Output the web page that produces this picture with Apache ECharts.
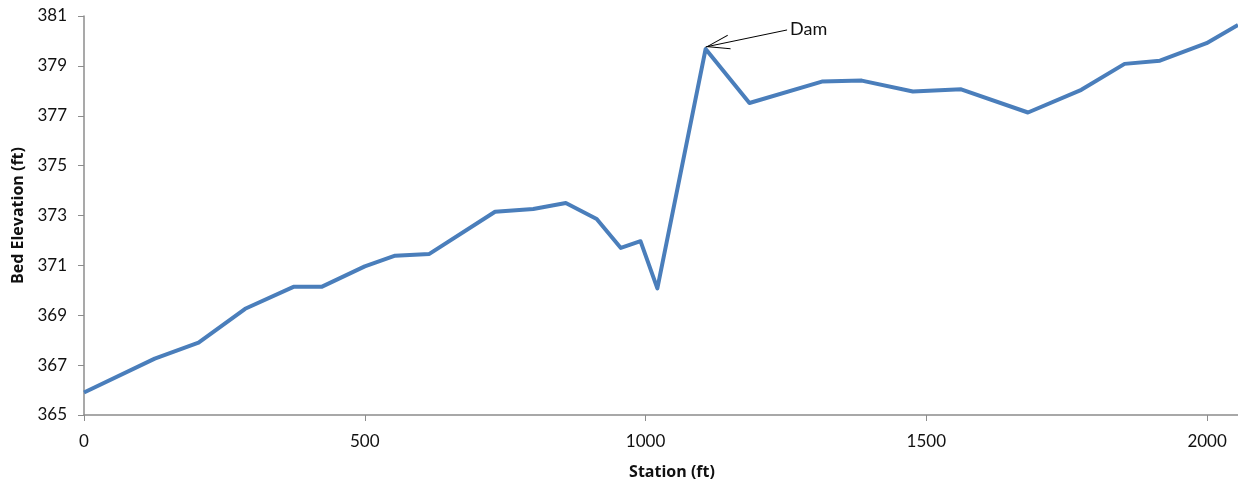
<!DOCTYPE html>
<html>
<head>
<meta charset="utf-8">
<script src="https://cdn.jsdelivr.net/npm/echarts@6/dist/echarts.min.js"></script>
<style>
html,body{margin:0;padding:0;background:#fff;}
#chart{width:1238px;height:485px;}
</style>
</head>
<body>
<div id="chart"></div>
<script>
// Data
var stations = [0,126,204,287,373,423,500,554,615,732,800,858,913,956,991,1021,1107,1185,1314,1385,1476,1562,1681,1776,1853,1916,1999,2055];
var elevations = [365.90,367.26,367.90,369.26,370.14,370.14,370.96,371.39,371.46,373.15,373.26,373.50,372.86,371.70,371.97,370.08,379.68,377.51,378.37,378.41,377.97,378.06,377.13,378.04,379.08,379.21,379.91,380.64];
var xTicks = [0,500,1000,1500,2000];
var yTicks = [365,367,369,371,373,375,377,379,381];
var damLabel = 'Dam';
var damArrowFrom = [1252, 380.44];
var damArrowTo = [1107, 379.76];

var points = stations.map(function(s,i){return [s, elevations[i]];});
var font = 'Lato, "Liberation Sans", sans-serif';
var titleFont = '"Open Sans", Lato, sans-serif';
var chart = echarts.init(document.getElementById('chart'), null, {renderer:'canvas'});
chart.setOption({
  animation:false,
  grid:{left:84,top:16,right:0,bottom:69,containLabel:false},
  xAxis:{
    type:'value',min:0,max:2055,
    name:'Station (ft)',nameLocation:'middle',nameGap:49,
    nameTextStyle:{fontFamily:titleFont,fontWeight:'bold',fontSize:16,color:'#111',padding:[0,0,0,22]},
    axisLine:{show:true,lineStyle:{color:'#8c8c8c',width:1.5}},
    axisTick:{show:true,length:6,lineStyle:{color:'#8c8c8c'},customValues:xTicks},
    axisLabel:{customValues:xTicks,margin:18,fontFamily:font,fontSize:17,color:'#111',
      formatter:function(v){return String(v);}},
    splitLine:{show:false}
  },
  yAxis:{
    type:'value',min:365,max:381,
    name:'Bed Elevation (ft)',nameLocation:'middle',nameGap:56,nameRotate:90,
    nameTextStyle:{fontFamily:titleFont,fontWeight:'bold',fontSize:16,color:'#111'},
    axisLine:{show:true,lineStyle:{color:'#8c8c8c',width:1.5}},
    axisTick:{show:true,length:6,lineStyle:{color:'#8c8c8c'},customValues:yTicks},
    axisLabel:{customValues:yTicks,margin:17,fontFamily:font,fontSize:17,color:'#111',
      formatter:function(v){return String(v);}},
    splitLine:{show:false}
  },
  series:[{
    type:'line',data:points,showSymbol:false,symbol:'none',
    lineStyle:{color:'#4a7ebb',width:4,join:'round'},
    clip:true,
    markLine:{
      silent:true,
      symbol:['none','path://M0,0 L-8,18 L-6.9,18 L0,2.4 L6.9,18 L8,18 Z M-0.01,-18 L0.01,-18 L0,-17.99 Z'],
      symbolSize:[15,48],
      lineStyle:{color:'#000',width:1,type:'solid'},
      label:{show:true,position:'start',formatter:damLabel,fontFamily:font,fontSize:18,color:'#111',distance:3},
      data:[[{coord:damArrowFrom},{coord:damArrowTo}]]
    }
  }]
});
</script>
</body>
</html>
